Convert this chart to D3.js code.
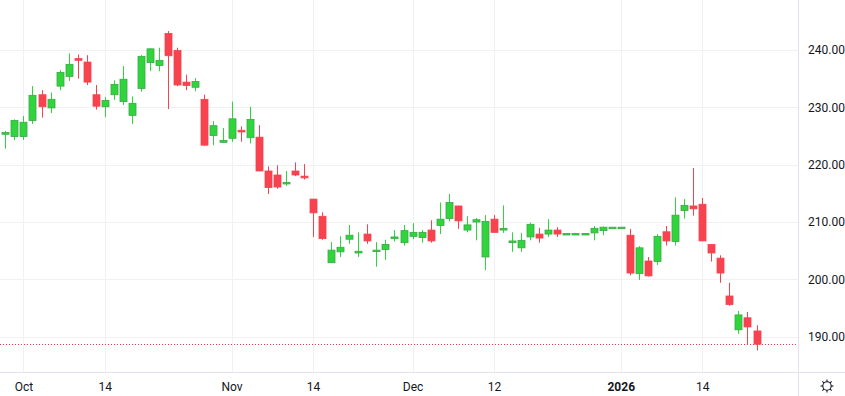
<!DOCTYPE html>
<html>
<head>
<meta charset="utf-8">
<script src="https://cdn.jsdelivr.net/npm/d3@7"></script>
<style>
  body { margin: 0; background: #ffffff; }
  svg { display: block; }
  text { font-family: Roboto, "Liberation Sans", sans-serif; font-size: 12px; fill: #131722; }
</style>
</head>
<body>
<div class="chart"></div>
<script>
WIDTH = 845
HEIGHT = 396
PLOT_RIGHT = 798
AXIS_TOP = 372

// data
// every weekday from Sep 29 2025 to Jan 22 2026 (holidays show as flat bars)
DATES = d3.timeDay.range(new Date(2025, 8, 29), new Date(2026, 0, 23))
  .filter(function(d){ return d.getDay() !== 0 && d.getDay() !== 6 })

OPEN = [225.3, 224.9, 224.9, 227.7, 232.2, 229.9, 233.7, 235.4, 238.5, 237.9,
        232.2, 230.1, 232.2, 231.0, 228.6, 233.3, 237.8, 237.3, 242.9, 239.9,
        234.4, 233.5, 231.4, 225.1, 223.9, 224.6, 226.0, 224.7, 224.8, 218.9,
        218.2, 216.7, 218.9, 218.0, 214.0, 211.0, 202.9, 204.8, 207.0, 204.6,
        207.9, 205.0, 205.2, 207.1, 206.4, 207.5, 207.3, 208.6, 209.4, 210.6,
        212.8, 208.6, 210.0, 203.9, 210.5, 208.6, 206.4, 205.5, 207.4, 207.9,
        207.9, 208.6, 208.0, 208.0, 208.0, 208.1, 208.5, 209.1, 209.1, 207.7,
        201.0, 203.2, 203.1, 208.3, 206.6, 212.0, 212.8, 213.1, 206.1, 203.7,
        197.1, 191.2, 193.3, 191.0]
HIGH = [225.9, 227.9, 228.5, 233.7, 233.0, 232.6, 236.5, 239.4, 239.2, 239.1,
        233.9, 231.8, 234.7, 237.2, 231.9, 239.1, 240.3, 240.4, 243.3, 240.4,
        235.7, 235.1, 232.2, 227.6, 226.4, 231.0, 226.7, 230.1, 226.9, 219.7,
        219.9, 218.9, 220.4, 220.1, 214.0, 211.7, 206.5, 207.5, 209.5, 208.2,
        209.6, 206.5, 206.9, 208.6, 209.5, 209.8, 208.6, 210.3, 213.4, 214.9,
        212.8, 211.0, 210.7, 211.2, 211.2, 212.9, 208.2, 208.1, 209.9, 209.0,
        210.5, 209.1, 208.0, 208.0, 208.0, 209.3, 209.2, 209.1, 209.1, 208.8,
        205.8, 203.9, 207.9, 209.3, 214.3, 214.0, 219.4, 214.2, 206.1, 204.2,
        199.4, 194.5, 194.3, 192.0]
LOW = [222.8, 224.3, 224.3, 227.1, 228.2, 229.0, 233.0, 234.6, 235.0, 233.9,
       229.6, 228.3, 231.3, 230.4, 227.1, 232.7, 236.3, 236.3, 229.7, 233.7,
       233.0, 232.8, 223.3, 223.4, 223.8, 224.0, 224.0, 223.7, 218.9, 214.9,
       215.8, 216.3, 218.0, 217.4, 207.4, 206.9, 202.9, 203.9, 206.2, 203.9,
       206.2, 202.2, 203.4, 206.6, 205.9, 207.0, 206.4, 206.4, 207.9, 210.1,
       208.8, 208.2, 206.8, 201.6, 208.1, 208.1, 204.8, 204.8, 206.8, 206.4,
       207.4, 207.4, 208.0, 208.0, 208.0, 206.8, 207.7, 209.1, 209.1, 200.7,
       199.9, 200.5, 202.5, 205.9, 205.9, 210.6, 211.1, 206.7, 203.1, 199.4,
       195.4, 190.5, 188.7, 187.6]
CLOSE = [225.6, 227.7, 227.4, 232.1, 230.1, 231.4, 236.1, 237.5, 238.2, 234.4,
         230.2, 231.2, 234.0, 234.9, 230.7, 238.9, 240.2, 238.2, 239.0, 233.9,
         233.8, 234.5, 223.4, 226.8, 224.2, 228.0, 225.7, 227.9, 218.9, 216.0,
         216.1, 216.9, 218.2, 217.7, 211.6, 207.1, 205.1, 205.6, 207.7, 204.9,
         206.7, 205.1, 206.1, 207.4, 208.5, 208.2, 208.2, 206.7, 210.5, 213.4,
         210.2, 209.5, 210.4, 210.1, 208.2, 208.9, 206.7, 206.8, 209.6, 207.2,
         208.6, 207.9, 208.0, 208.0, 208.0, 208.9, 209.1, 209.1, 209.1, 201.1,
         205.5, 200.6, 207.5, 206.7, 211.2, 212.9, 212.3, 206.7, 204.6, 201.1,
         195.6, 193.8, 191.7, 188.7]

PRICE_TICKS = [190, 200, 210, 220, 230, 240]
TIME_TICKS = ["2025-10-01", "2025-10-14", "2025-11-03", "2025-11-14",
              "2025-12-01", "2025-12-12", "2026-01-01", "2026-01-14"]
TIME_LABELS = ["Oct", "14", "Nov", "14", "Dec", "12", "2026", "14"]

UP_FILL = "#30d53e"
UP_LINE = "#3aa847"
DOWN_FILL = "#f7434f"

var fmtDay = d3.timeFormat("%Y-%m-%d")
var bars = DATES.map(function(d, i){
  return {key: fmtDay(d), o: OPEN[i], h: HIGH[i], l: LOW[i], c: CLOSE[i]}
})

var x = d3.scalePoint()
  .domain(bars.map(function(d){ return d.key }))
  .range([5.3, 756.5])

var y = d3.scaleLinear()
  .domain([190, 240])
  .range([336.7, 50])

var svg = d3.select("body").select(".chart")
  .append("svg")
    .attr("width", WIDTH)
    .attr("height", HEIGHT)

// GRID

svg.append("g")
  .selectAll("line")
  .data(PRICE_TICKS)
  .enter()
  .append("line")
    .attr("x1", 0)
    .attr("x2", PLOT_RIGHT)
    .attr("y1", function(d){ return Math.round(y(d)) + 0.5 })
    .attr("y2", function(d){ return Math.round(y(d)) + 0.5 })
    .style("stroke", "#f0f1f3")

svg.append("g")
  .selectAll("line")
  .data(TIME_TICKS)
  .enter()
  .append("line")
    .attr("x1", function(d){ return Math.round(x(d)) + 0.5 })
    .attr("x2", function(d){ return Math.round(x(d)) + 0.5 })
    .attr("y1", 0)
    .attr("y2", AXIS_TOP)
    .style("stroke", "#f0f1f3")

// LAST PRICE LINE

svg.append("line")
  .attr("x1", 0)
  .attr("x2", PLOT_RIGHT)
  .attr("y1", Math.round(y(CLOSE[CLOSE.length - 1])) + 0.5)
  .attr("y2", Math.round(y(CLOSE[CLOSE.length - 1])) + 0.5)
  .style("stroke", "#f23645")
  .style("stroke-dasharray", "1,2")

// CANDLES

var candles = svg.append("g")
  .selectAll("g")
  .data(bars)
  .enter()
  .append("g")

candles.append("line")
  .attr("x1", function(d){ return Math.round(x(d.key)) + 0.5 })
  .attr("x2", function(d){ return Math.round(x(d.key)) + 0.5 })
  .attr("y1", function(d){ return y(d.h) })
  .attr("y2", function(d){ return y(d.l) })
  .style("stroke", function(d){ return d.c >= d.o ? UP_FILL : DOWN_FILL })
  .style("stroke-width", 1)

candles.append("rect")
  .attr("x", function(d){ return Math.round(x(d.key)) - 3 })
  .attr("y", function(d){ return y(Math.max(d.o, d.c)) })
  .attr("width", 7)
  .attr("height", function(d){ return Math.max(1.5, Math.abs(y(d.o) - y(d.c))) })
  .style("fill", function(d){ return d.c >= d.o ? UP_FILL : DOWN_FILL })
  .style("stroke", function(d){ return d.c >= d.o ? UP_LINE : DOWN_FILL })
  .style("stroke-width", 0.8)

// AXES

svg.append("line")
  .attr("x1", PLOT_RIGHT + 0.5)
  .attr("x2", PLOT_RIGHT + 0.5)
  .attr("y1", 0)
  .attr("y2", HEIGHT)
  .style("stroke", "#e0e3eb")

svg.append("line")
  .attr("x1", 0)
  .attr("x2", WIDTH)
  .attr("y1", AXIS_TOP + 0.5)
  .attr("y2", AXIS_TOP + 0.5)
  .style("stroke", "#e0e3eb")

var yAxis = svg.append("g")
  .attr("transform", "translate(" + (PLOT_RIGHT + 3) + ",0)")
  .call(d3.axisRight(y)
    .tickValues(PRICE_TICKS)
    .tickFormat(d3.format(".2f"))
    .tickSize(0)
    .tickPadding(7))

yAxis.select(".domain").remove()
yAxis.selectAll("text")
  .attr("font-family", null)
  .attr("font-size", null)
  .style("fill", "#131722")

var xAxis = svg.append("g")
  .attr("transform", "translate(0," + AXIS_TOP + ")")
  .call(d3.axisBottom(x)
    .tickValues(TIME_TICKS)
    .tickFormat(function(d, i){ return TIME_LABELS[i] })
    .tickSize(0)
    .tickPadding(10))

xAxis.select(".domain").remove()
xAxis.selectAll("text")
  .attr("font-family", null)
  .attr("font-size", null)
  .style("fill", "#131722")
  .style("font-weight", function(d, i){ return TIME_LABELS[i] === "2026" ? "bold" : "normal" })

// SETTINGS ICON

var gear = svg.append("g")
  .attr("transform", "translate(827,386)")
  .style("stroke", "#131722")
  .style("fill", "none")
  .style("stroke-width", 1.1)

gear.append("circle")
  .attr("r", 4.2)

gear.selectAll("line")
  .data(d3.range(8))
  .enter()
  .append("line")
    .attr("x1", function(d){ return 4.2 * Math.cos(d * Math.PI / 4) })
    .attr("y1", function(d){ return 4.2 * Math.sin(d * Math.PI / 4) })
    .attr("x2", function(d){ return 6.5 * Math.cos(d * Math.PI / 4) })
    .attr("y2", function(d){ return 6.5 * Math.sin(d * Math.PI / 4) })
</script>
</body>
</html>
